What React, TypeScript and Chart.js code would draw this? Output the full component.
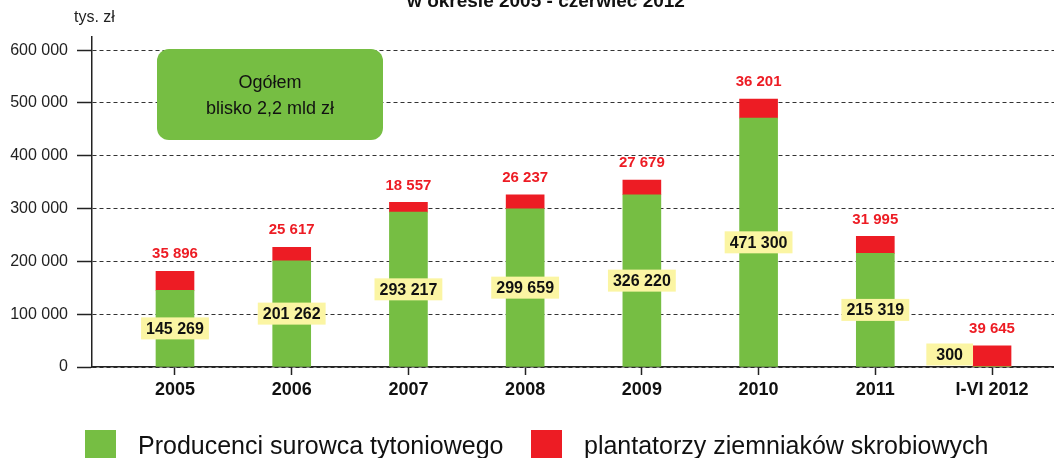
import React, { useEffect, useRef } from "react";
import { Chart, registerables } from "chart.js";

Chart.register(...registerables);

const categories = ["2005", "2006", "2007", "2008", "2009", "2010", "2011", "I-VI 2012"];
const tobaccoValues = [145269, 201262, 293217, 299659, 326220, 471300, 215319, 300];
const potatoValues = [35896, 25617, 18557, 26237, 27679, 36201, 31995, 39645];
const yTickValues = [0, 100000, 200000, 300000, 400000, 500000, 600000];
const seriesNames = ["Producenci surowca tytoniowego", "plantatorzy ziemniaków skrobiowych"];
const titleText = "w okresie 2005 - czerwiec 2012";
const unitText = "tys. zł";
const noteLines = ["Ogółem", "blisko 2,2 mld zł"];

const GREEN = "#76BE43";
const RED = "#ED1C24";
const YELLOW = "#FBF5A3";
const INK = "#111111";
const FONT = '"Liberation Sans", Arial, sans-serif';

const fmt = (v: number) => String(v).replace(/\B(?=(\d{3})+(?!\d))/g, " ");

const overlayPlugin = {
  id: "overlay",
  afterDatasetsDraw(chart: any) {
    const ctx = chart.ctx as CanvasRenderingContext2D;
    const greenBars = chart.getDatasetMeta(0).data;
    const redBars = chart.getDatasetMeta(1).data;
    ctx.save();
    ctx.textAlign = "center";
    ctx.textBaseline = "middle";
    // value labels for green segments (yellow boxes)
    ctx.font = `bold 16px ${FONT}`;
    greenBars.forEach((bar: any, i: number) => {
      const p = bar.getProps(["x", "y", "base", "width"], true);
      const text = fmt(tobaccoValues[i]);
      const tw = ctx.measureText(text).width;
      const h = 22;
      let w = tw + 10;
      let cx = p.x;
      let cy = (p.y + p.base) / 2;
      if (p.base - p.y < h) {
        w = tw + 20;
        cx = p.x - p.width / 2 - w / 2;
        cy = p.base - h / 2 - 1;
      }
      ctx.fillStyle = YELLOW;
      ctx.fillRect(cx - w / 2, cy - h / 2, w, h);
      ctx.fillStyle = INK;
      ctx.fillText(text, cx, cy + 1);
    });
    // red labels above stacks
    ctx.font = `bold 15px ${FONT}`;
    ctx.fillStyle = RED;
    redBars.forEach((bar: any, i: number) => {
      const p = bar.getProps(["x", "y"], true);
      ctx.fillText(fmt(potatoValues[i]), p.x, p.y - 17);
    });
    ctx.restore();
  },
  afterDraw(chart: any) {
    const ctx = chart.ctx as CanvasRenderingContext2D;
    ctx.save();
    // title (partly cut at the top)
    ctx.fillStyle = INK;
    ctx.font = `bold 19px ${FONT}`;
    ctx.textAlign = "center";
    ctx.textBaseline = "alphabetic";
    ctx.fillText(titleText, 546, 7);
    // unit
    ctx.font = `16px ${FONT}`;
    ctx.textAlign = "left";
    ctx.textBaseline = "middle";
    ctx.fillStyle = "#222";
    ctx.fillText(unitText, 74, 18);
    // note box
    ctx.fillStyle = GREEN;
    ctx.beginPath();
    (ctx as any).roundRect(157, 49, 226, 91, 12);
    ctx.fill();
    ctx.fillStyle = INK;
    ctx.font = `18px ${FONT}`;
    ctx.textAlign = "center";
    ctx.fillText(noteLines[0], 270, 83);
    ctx.fillText(noteLines[1], 270, 109);
    // legend
    ctx.textAlign = "left";
    ctx.textBaseline = "alphabetic";
    ctx.font = `25px ${FONT}`;
    ctx.fillStyle = GREEN;
    ctx.fillRect(85, 430, 31, 31);
    ctx.fillStyle = INK;
    ctx.fillText(seriesNames[0], 138, 454);
    ctx.fillStyle = RED;
    ctx.fillRect(531, 430, 31, 31);
    ctx.fillStyle = INK;
    ctx.fillText(seriesNames[1], 584, 454);
    ctx.restore();
  },
};

export default function App() {
  const canvasRef = useRef<HTMLCanvasElement | null>(null);

  useEffect(() => {
    if (!canvasRef.current) return;
    const chart = new Chart(canvasRef.current, {
      type: "bar",
      data: {
        datasets: [
          {
            label: seriesNames[0],
            data: tobaccoValues.map((v, i) => ({ x: i, y: v })),
            backgroundColor: GREEN,
            borderWidth: 0,
            barThickness: 38,
          },
          {
            label: seriesNames[1],
            data: potatoValues.map((v, i) => ({ x: i, y: v })),
            backgroundColor: RED,
            borderWidth: 0,
            barThickness: 38,
          },
        ],
      },
      options: {
        animation: false,
        responsive: false,
        devicePixelRatio: 1,
        layout: { padding: { top: 37, left: 0, right: 0, bottom: 0 } },
        plugins: {
          legend: { display: false },
          tooltip: { enabled: false },
          title: { display: false },
        },
        scales: {
          x: {
            type: "linear",
            stacked: true,
            offset: false,
            min: -0.711,
            max: 7.531,
            afterBuildTicks: (axis: any) => {
              axis.ticks = categories.map((_, i) => ({ value: i }));
            },
            afterFit: (axis: any) => {
              axis.height = 91;
            },
            grid: {
              display: true,
              offset: false,
              drawOnChartArea: false,
              drawTicks: true,
              tickLength: 8,
              tickColor: "#222",
              tickWidth: 1.5,
            },
            border: { display: true, color: "#222", width: 1.5 },
            ticks: {
              callback: (v: any) => categories[v] ?? "",
              font: { family: FONT, size: 18, weight: "bold" },
              color: INK,
              padding: 4,
              maxRotation: 0,
              autoSkip: false,
            },
          },
          y: {
            stacked: true,
            min: 0,
            max: 625000,
            afterBuildTicks: (axis: any) => {
              axis.ticks = yTickValues.map((v) => ({ value: v }));
            },
            afterFit: (axis: any) => {
              axis.width = 92;
            },
            grid: {
              color: "#333",
              lineWidth: 1,
              tickLength: 15,
              tickColor: "#222",
              tickWidth: 1.5,
            },
            border: { display: true, color: "#222", width: 1.5, dash: [4, 3] },
            ticks: {
              callback: (v: any) => fmt(Number(v)),
              font: { family: FONT, size: 16 },
              color: "#222",
              padding: 9,
            },
          },
        },
      } as any,
      plugins: [overlayPlugin],
    });
    return () => chart.destroy();
  }, []);

  return (
    <div style={{ position: "absolute", left: 0, top: 0, width: 1054, height: 458, background: "#fff" }}>
      <canvas ref={canvasRef} width={1054} height={458} style={{ width: 1054, height: 458, display: "block" }} />
    </div>
  );
}
